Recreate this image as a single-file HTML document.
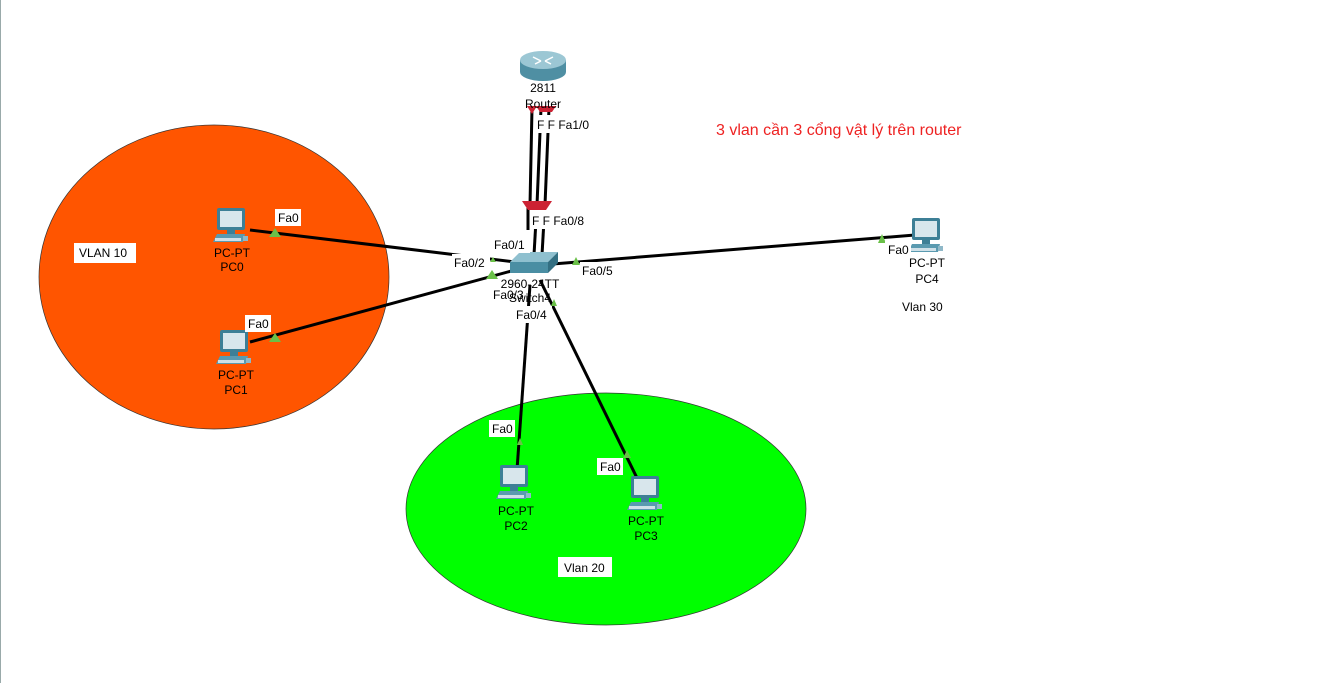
<!DOCTYPE html>
<html><head><style>
body{margin:0;background:#fff;}
svg{display:block;font-family:"Liberation Sans",sans-serif;}
</style></head><body>
<svg width="1329" height="683" viewBox="0 0 1329 683">
<defs>
<g id="pc">
 <rect x="4" y="0" width="28" height="22" fill="#3d7f96" rx="2"/>
 <rect x="7" y="3" width="22" height="16" fill="#d8e6ec"/>
 <rect x="14" y="22" width="8" height="4" fill="#3d7f96"/>
 <polygon points="0,34 4,26 32,26 30,34" fill="#5a9ab0"/>
 <rect x="2" y="30" width="26" height="3" fill="#cfe0e8"/>
 <rect x="30" y="28" width="5" height="5" fill="#8fb8c8"/>
</g>
</defs>
<line x1="0.5" y1="0" x2="0.5" y2="683" stroke="#9aa" stroke-width="1"/>
<ellipse cx="214" cy="277" rx="175" ry="152" fill="#ff5500" stroke="#333" stroke-width="0.7"/>
<ellipse cx="606" cy="509" rx="200" ry="116" fill="#00ff00" stroke="#333" stroke-width="0.7"/>
<g stroke="#000" stroke-width="3">
 <line x1="532" y1="108" x2="530" y2="205"/>
 <line x1="541" y1="108" x2="537" y2="205"/>
 <line x1="549" y1="108" x2="545" y2="205"/>
 <line x1="528" y1="205" x2="528" y2="230"/>
 <line x1="536" y1="220" x2="534" y2="255"/>
 <line x1="544" y1="220" x2="542" y2="255"/>
 <line x1="250" y1="230" x2="515" y2="262"/>
 <line x1="250" y1="342" x2="515" y2="270"/>
 <line x1="540" y1="265" x2="915" y2="235"/>
 <line x1="530" y1="285" x2="517" y2="470"/>
 <line x1="540" y1="280" x2="638" y2="480"/>
</g>
<!-- router -->
<ellipse cx="543" cy="72" rx="23" ry="9" fill="#4f8fa3"/>
<rect x="520" y="60" width="46" height="12" fill="#4f8fa3"/>
<ellipse cx="543" cy="60" rx="23" ry="9" fill="#9cc7d4"/>
<path d="M533 57l8 4M553 57l-8 4M535 64l6-3M551 64l-6-3" stroke="#fff" stroke-width="1.5"/>
<!-- red port markers -->
<polygon points="527,106 537,106 532,114" fill="#cc2233"/>
<polygon points="536,106 556,106 552,112 540,112" fill="#cc2233"/>
<polygon points="522,201 552,201 546,210 528,210" fill="#cc2233"/>
<!-- switch -->
<polygon points="510,262 520,252 558,252 548,262" fill="#8fc0cf"/>
<rect x="510" y="262" width="38" height="11" fill="#4a8ea3"/>
<polygon points="548,262 558,252 558,263 548,273" fill="#336f82"/>
<!-- green triangles -->
<g fill="#6ac048">
 <polygon points="269,237 275,228 281,237"/>
 <polygon points="269,342 275,333 281,342"/>
 <polygon points="878,243 882,234 886,243"/>
 <polygon points="572,265 576,257 580,265"/>
 <polygon points="486,279 492,270 498,279"/>
 <polygon points="490,262 493,257 496,262"/>
 <polygon points="551,306 554,299 557,306"/>
 <polygon points="517,445 520,438 523,445"/>
 <polygon points="623,458 627,450 631,458"/>
</g>
<use href="#pc" x="213" y="208"/>
<use href="#pc" x="216" y="330"/>
<use href="#pc" x="496" y="465"/>
<use href="#pc" x="627" y="476"/>
<use href="#pc" x="908" y="218"/>
<g font-size="12" fill="#000" text-anchor="middle">
 <text x="232" y="257">PC-PT</text><text x="232" y="271">PC0</text>
 <text x="236" y="379">PC-PT</text><text x="236" y="394">PC1</text>
 <text x="516" y="515">PC-PT</text><text x="516" y="530">PC2</text>
 <text x="646" y="525">PC-PT</text><text x="646" y="540">PC3</text>
 <text x="927" y="267">PC-PT</text><text x="927" y="283">PC4</text>
 <text x="543" y="92">2811</text><text x="543" y="108">Router</text>
 <text x="530" y="288">2960-24TT</text><text x="530" y="302">Switch4</text>
</g>
<g font-size="12" fill="#000">
 <rect x="275" y="209" width="26" height="17" fill="#fff"/><text x="278" y="222">Fa0</text>
 <rect x="245" y="315" width="26" height="17" fill="#fff"/><text x="248" y="328">Fa0</text>
 <rect x="489" y="420" width="26" height="17" fill="#fff"/><text x="492" y="433">Fa0</text>
 <rect x="597" y="458" width="26" height="17" fill="#fff"/><text x="600" y="471">Fa0</text>
 <rect x="885" y="241" width="26" height="17" fill="#fff"/><text x="888" y="254">Fa0</text>
 <rect x="74" y="243" width="62" height="20" fill="#fff"/><text x="79" y="257">VLAN 10</text>
 <rect x="897" y="297" width="54" height="20" fill="#fff"/><text x="902" y="311">Vlan 30</text>
 <rect x="558" y="557" width="54" height="20" fill="#fff"/><text x="564" y="572">Vlan 20</text>
 <rect x="535" y="115" width="55" height="18" fill="#fff"/><text x="537" y="129">F F Fa1/0</text>
 <rect x="530" y="211" width="55" height="18" fill="#fff"/><text x="532" y="225">F F Fa0/8</text>
 <rect x="492" y="236" width="38" height="17" fill="#fff"/><text x="494" y="249">Fa0/1</text>
 <rect x="452" y="254" width="38" height="17" fill="#fff"/><text x="454" y="267">Fa0/2</text>
 <rect x="580" y="262" width="38" height="17" fill="#fff"/><text x="582" y="275">Fa0/5</text>
 <text x="493" y="299">Fa0/3</text>
 <rect x="514" y="306" width="38" height="17" fill="#fff"/><text x="516" y="319">Fa0/4</text>
</g>
<text x="716" y="135" font-size="16" fill="#ee2222">3 vlan cần 3 cổng vật lý trên router</text>
</svg>
</body></html>
